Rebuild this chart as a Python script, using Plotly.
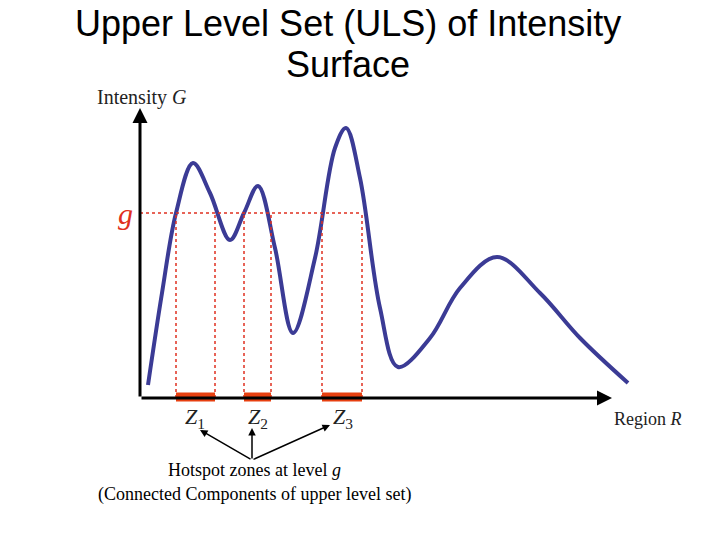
import plotly.graph_objects as go

# curve control points (x = region, y = intensity)
curve_x = [8, 22, 36, 53, 70, 90, 104, 118, 135, 153, 175, 195, 206, 220, 240, 258, 290, 320, 357, 400, 440, 488]
curve_y = [13, 105, 185, 235, 205, 158, 185, 212, 150, 65, 140, 250, 270, 220, 90, 31, 60, 110, 141, 105, 60, 15]
g_level = 185
zones = [(36, 75), (104, 131), (182, 222)]
zone_labels = ["Z", "Z", "Z"]
zone_subs = ["1", "2", "3"]
zone_label_x = [55, 118, 203]

fig = go.Figure()
fig.add_trace(go.Scatter(x=curve_x, y=curve_y, mode="lines", line=dict(color="#3b3b95", width=4, shape="spline", smoothing=1.0), hoverinfo="skip"))

red = "#e03020"
fig.add_trace(go.Scatter(x=[0, zones[-1][1]], y=[g_level, g_level], mode="lines", line=dict(color=red, width=1.5, dash="dot")))
for a, b in zones:
    for v in (a, b):
        fig.add_trace(go.Scatter(x=[v, v], y=[0, g_level], mode="lines", line=dict(color=red, width=1.5, dash="dot")))

fig.add_annotation(x=0, y=290, ax=0, ay=0, axref="x", ayref="y", xref="x", yref="y", showarrow=True, arrowhead=2, arrowsize=1, arrowwidth=3, arrowcolor="black", text="")
fig.add_annotation(x=472, y=0, ax=0, ay=0, axref="x", ayref="y", xref="x", yref="y", showarrow=True, arrowhead=2, arrowsize=1, arrowwidth=3, arrowcolor="black", text="")
for a, b in zones:
    fig.add_trace(go.Scatter(x=[a, b], y=[1, 1], mode="lines", line=dict(color="#e84010", width=9)))

serif = "Liberation Serif"
fig.add_annotation(x=-45, y=301, xref="x", yref="y", text="Intensity <i>G</i>", showarrow=False, xanchor="left", font=dict(family=serif, size=20, color="#222"))
fig.add_annotation(x=-15, y=185, xref="x", yref="y", text="<i>g</i>", showarrow=False, font=dict(family=serif, size=30, color=red))
fig.add_annotation(x=472, y=-21, xref="x", yref="y", text="Region <i>R</i>", showarrow=False, xanchor="left", font=dict(family=serif, size=18, color="#222"))
for lx, lt, ls in zip(zone_label_x, zone_labels, zone_subs):
    fig.add_annotation(x=lx, y=-20, xref="x", yref="y", text="<i>" + lt + "</i><sub>" + ls + "</sub>", showarrow=False, font=dict(family=serif, size=22, color="#222"))
for tx, ty in [(60, -32), (112, -30), (190, -27)]:
    fig.add_annotation(x=tx, y=ty, ax=112, ay=-62, axref="x", ayref="y", xref="x", yref="y", showarrow=True, arrowhead=2, arrowsize=1, arrowwidth=1.5, arrowcolor="black", text="")
fig.add_annotation(x=114, y=-72, xref="x", yref="y", text="Hotspot zones at level <i>g</i>", showarrow=False, font=dict(family=serif, size=18, color="black"))
fig.add_annotation(x=114, y=-96, xref="x", yref="y", text="(Connected Components of upper level set)", showarrow=False, font=dict(family=serif, size=18, color="black"))

fig.add_annotation(x=340/720, y=1-15/540, xref="paper", yref="paper", yanchor="middle", text="Upper Level Set (ULS) of Intensity", showarrow=False, font=dict(family="Liberation Sans", size=36, color="black"))
fig.add_annotation(x=340/720, y=1-56/540, xref="paper", yref="paper", yanchor="middle", text="Surface", showarrow=False, font=dict(family="Liberation Sans", size=36, color="black"))

fig.update_layout(width=720, height=540, margin=dict(l=0, r=0, t=0, b=0), showlegend=False,
                  paper_bgcolor="white", plot_bgcolor="white",
                  xaxis=dict(range=[-132, 588], visible=False, domain=[0, 1]),
                  yaxis=dict(range=[-150, 390], visible=False, domain=[0, 1]))
fig.write_html("out.html")
